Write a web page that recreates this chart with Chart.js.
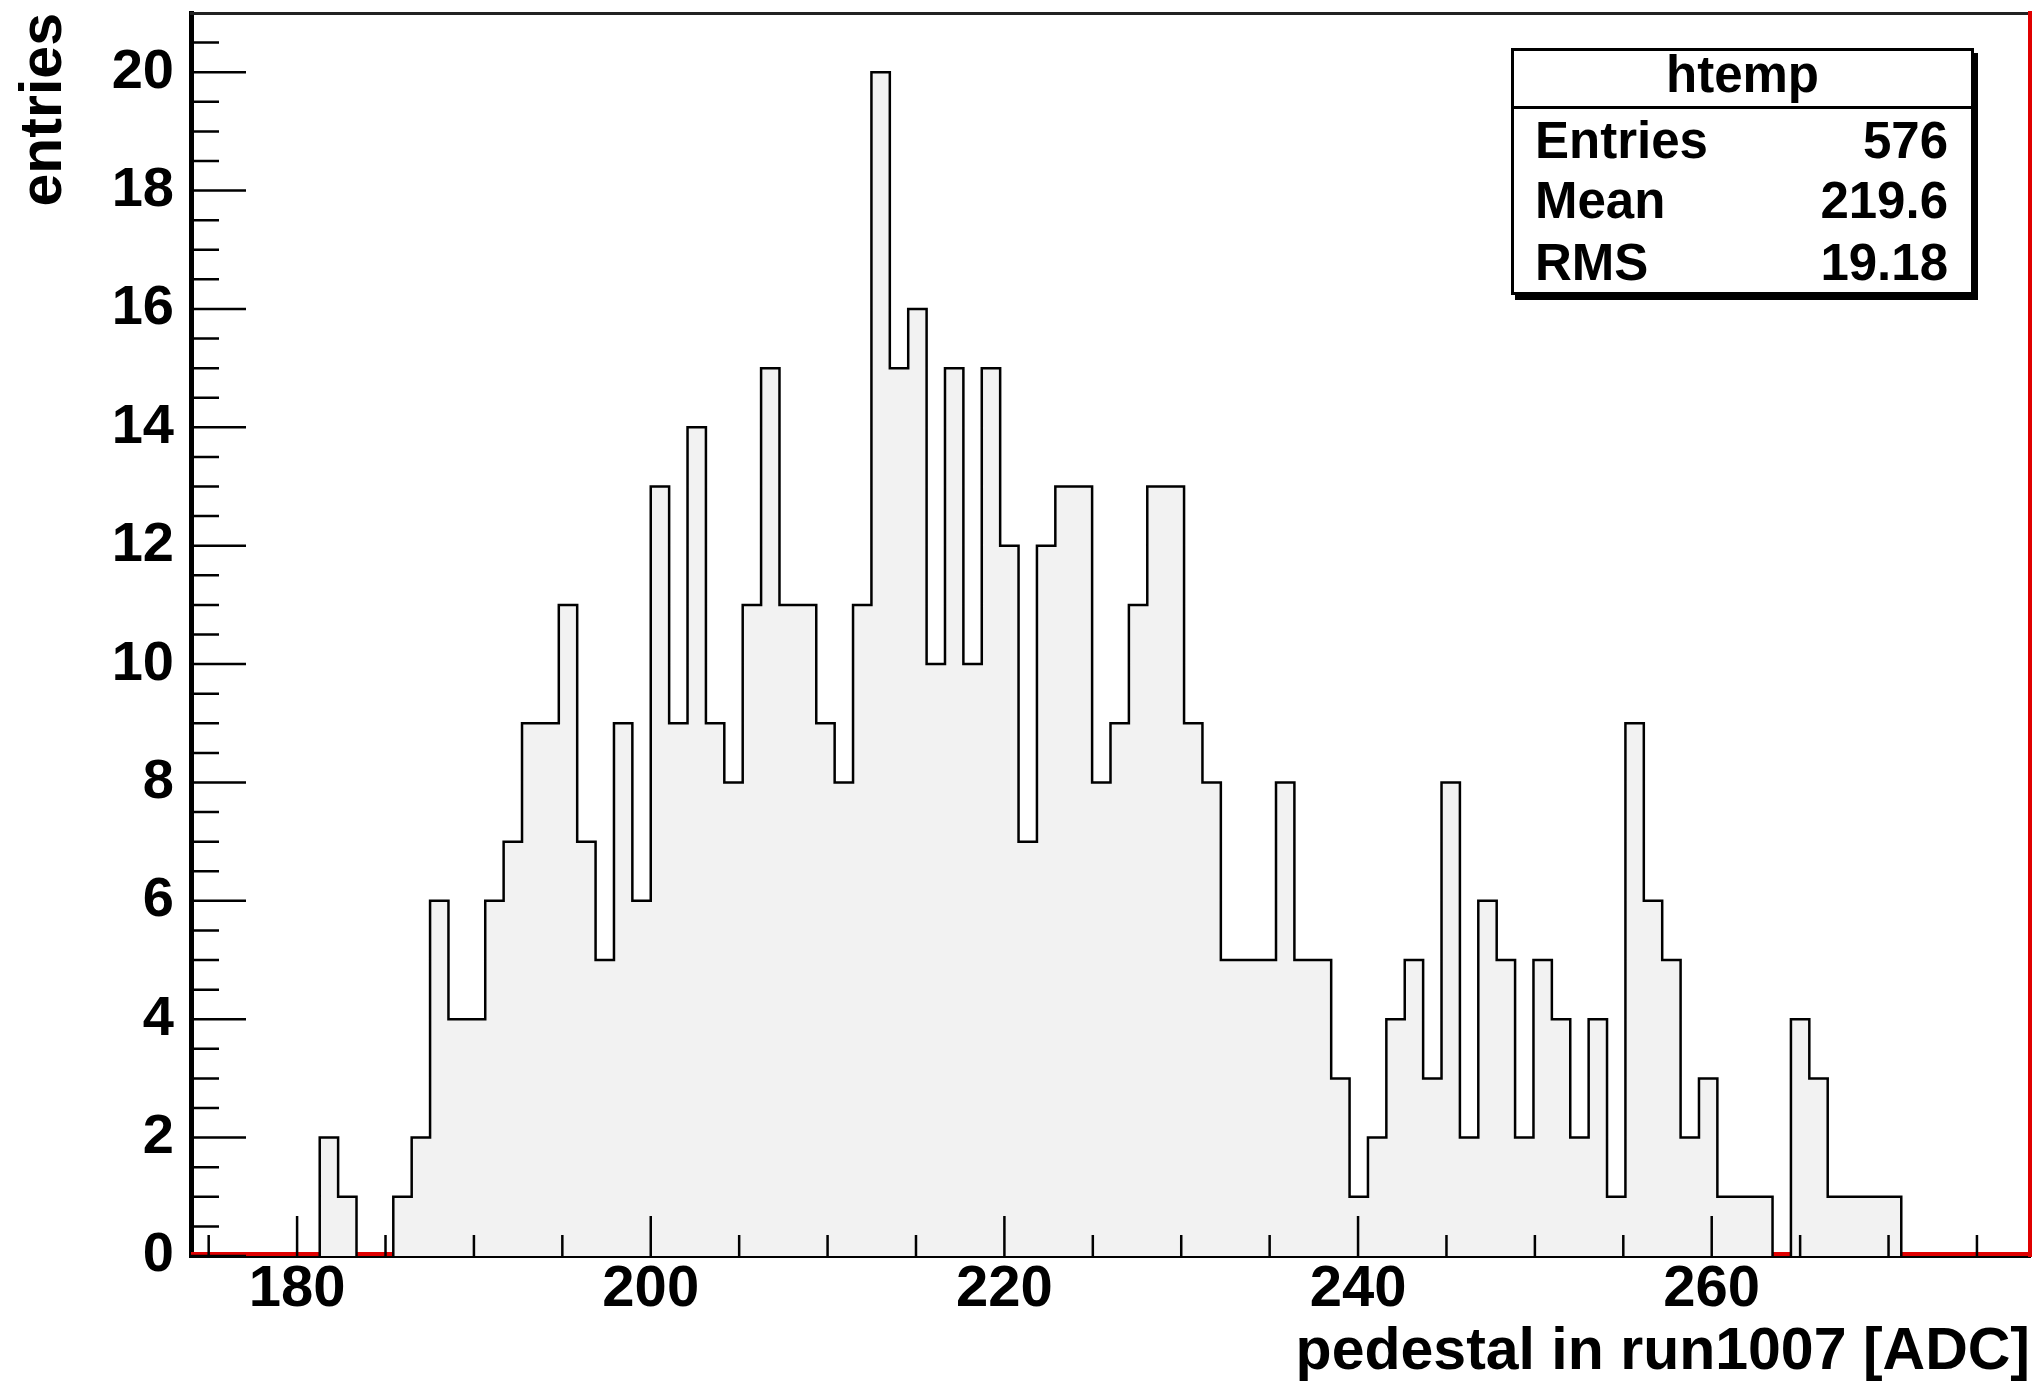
<!DOCTYPE html>
<html>
<head>
<meta charset="utf-8">
<script src="https://cdn.jsdelivr.net/npm/chart.js@4.4.1/dist/chart.umd.min.js"></script>
<style>
html,body{margin:0;padding:0;background:#fff;}
#wrap{position:relative;width:2037px;height:1386px;overflow:hidden;}
#c{position:absolute;left:0;top:0;}
.st{position:absolute;font-family:"Liberation Sans",Arial,Helvetica,sans-serif;font-weight:bold;font-size:51px;line-height:51px;color:#000;white-space:nowrap;}
#box{position:absolute;left:1511px;top:48px;width:463px;height:247px;border:3px solid #000;box-sizing:border-box;background:#fff;box-shadow:4px 5px 0 #000;}
#divider{position:absolute;left:1511px;top:106px;width:463px;height:3px;background:#000;}
</style>
</head>
<body>
<div id="wrap">
<canvas id="c" width="2037" height="1386"></canvas>
<div id="box"></div>
<div id="divider"></div>
<div class="st" id="sTitle" style="left:1511px;top:48.8px;width:463px;text-align:center;"></div>
<div class="st" id="n0" style="left:1535px;top:114.8px;"></div>
<div class="st" id="v0" style="left:1535px;top:114.8px;width:413px;text-align:right;"></div>
<div class="st" id="n1" style="left:1535px;top:174.8px;"></div>
<div class="st" id="v1" style="left:1535px;top:174.8px;width:413px;text-align:right;"></div>
<div class="st" id="n2" style="left:1535px;top:236.8px;"></div>
<div class="st" id="v2" style="left:1535px;top:236.8px;width:413px;text-align:right;"></div>
</div>
<script>
// ---- data ----
const binLow = 174;
const binWidth = 1.04;
const counts = [
  0, 0, 0, 0, 0, 0, 0, 2, 1, 0,
  0, 1, 2, 6, 4, 4, 6, 7, 9, 9,
  11, 7, 5, 9, 6, 13, 9, 14, 9, 8,
  11, 15, 11, 11, 9, 8, 11, 20, 15, 16,
  10, 15, 10, 15, 12, 7, 12, 13, 13, 8,
  9, 11, 13, 13, 9, 8, 5, 5, 5, 8,
  5, 5, 3, 1, 2, 4, 5, 3, 8, 2,
  6, 5, 2, 5, 4, 2, 4, 1, 9, 6,
  5, 2, 3, 1, 1, 1, 0, 4, 3, 1,
  1, 1, 1, 0, 0, 0, 0, 0, 0, 0
];
const xTitle = "pedestal in run1007 [ADC]";
const yTitle = "entries";
const statTitle = "htemp";
const statNames = ["Entries", "Mean", "RMS"];
const statValues = ["576", "219.6", "19.18"];

// ---- stats box text ----
document.getElementById('sTitle').textContent = statTitle;
for (let i = 0; i < statNames.length; i++) {
  document.getElementById('n' + i).textContent = statNames[i];
  document.getElementById('v' + i).textContent = statValues[i];
}

// ---- build histogram outline points from bins ----
const nBins = counts.length;
const xMax = binLow + nBins * binWidth;
const histPoints = [];
for (let i = 0; i < nBins; i++) {
  const x0 = binLow + i * binWidth;
  const x1 = binLow + (i + 1) * binWidth;
  histPoints.push({x: x0, y: counts[i]});
  histPoints.push({x: x1, y: counts[i]});
}

const FONT = "'Liberation Sans', Arial, Helvetica, sans-serif";

const innerTicks = {
  id: 'innerTicks',
  afterDatasetsDraw(chart) {
    const ctx = chart.ctx;
    const xs = chart.scales.x, ys = chart.scales.y;
    const area = chart.chartArea;
    ctx.save();
    ctx.strokeStyle = '#000';
    ctx.lineWidth = 2.5;
    ctx.beginPath();
    for (let v = 175; v < xs.max; v += 5) {
      const px = xs.getPixelForValue(v);
      const len = (v % 20 === 0) ? 40 : 21;
      ctx.moveTo(px, area.bottom);
      ctx.lineTo(px, area.bottom - len);
    }
    for (let v = 0; v < ys.max; v += 0.5) {
      const py = ys.getPixelForValue(v);
      const len = (v % 2 === 0) ? 55 : 28;
      ctx.moveTo(area.left, py);
      ctx.lineTo(area.left + len, py);
    }
    ctx.stroke();
    ctx.restore();
  }
};

function noPad(s) {
  s.paddingTop = 0; s.paddingBottom = 0; s.paddingLeft = 0; s.paddingRight = 0;
}

new Chart(document.getElementById('c'), {
  type: 'line',
  data: {
    datasets: [
      {
        label: 'htemp',
        data: histPoints,
        order: 1,
        borderColor: '#000',
        borderWidth: 2.5,
        backgroundColor: '#f2f2f2',
        fill: 'origin',
        pointRadius: 0,
        tension: 0,
        borderJoinStyle: 'miter',
        segment: {
          borderColor: c => (c.p0.parsed.y === 0 && c.p1.parsed.y === 0) ? 'rgba(0,0,0,0)' : '#000'
        }
      },
      {
        label: 'base',
        data: [{x: binLow, y: 0}, {x: xMax, y: 0}],
        order: 2,
        borderColor: '#e00000',
        borderWidth: 8,
        pointRadius: 0,
        fill: false,
        clip: 0
      }
    ]
  },
  options: {
    responsive: false,
    animation: false,
    devicePixelRatio: 1,
    layout: {padding: {left: 0, right: 7, top: 13, bottom: 0}},
    plugins: {legend: {display: false}, tooltip: {enabled: false}},
    scales: {
      x: {
        type: 'linear',
        position: 'bottom',
        min: binLow,
        max: xMax,
        z: 1,
        grid: {display: false, drawTicks: false},
        border: {display: true, color: '#000', width: 4},
        ticks: {
          stepSize: 20,
          includeBounds: false,
          autoSkip: false,
          maxRotation: 0,
          padding: 5,
          color: '#000',
          font: {family: FONT, weight: 'bold', size: 58, lineHeight: 1}
        },
        title: {
          display: true,
          text: xTitle,
          align: 'end',
          color: '#000',
          padding: {top: 0, bottom: 4},
          font: {family: FONT, weight: 'bold', size: 59, lineHeight: 1}
        },
        afterFit: s => { s.height = 130; noPad(s); }
      },
      y: {
        type: 'linear',
        position: 'left',
        min: 0,
        max: 21,
        z: 1,
        grid: {display: false, drawTicks: false},
        border: {display: true, color: '#000', width: 5},
        ticks: {
          stepSize: 2,
          includeBounds: false,
          autoSkip: false,
          padding: 17,
          color: '#000',
          font: {family: FONT, weight: 'bold', size: 56, lineHeight: 1}
        },
        title: {
          display: true,
          text: yTitle,
          align: 'end',
          color: '#000',
          padding: {top: 15.5, bottom: 0},
          font: {family: FONT, weight: 'bold', size: 59, lineHeight: 1}
        },
        afterFit: s => { s.width = 191; noPad(s); }
      },
      x2: {
        type: 'linear',
        position: 'top',
        min: binLow,
        max: xMax,
        z: 1,
        grid: {display: false, drawTicks: false},
        border: {display: true, color: '#222', width: 3},
        ticks: {display: false},
        afterFit: s => { s.height = 0; noPad(s); }
      },
      y2: {
        type: 'linear',
        position: 'right',
        min: 0,
        max: 21,
        z: 1,
        grid: {display: false, drawTicks: false},
        border: {display: true, color: '#e00000', width: 4},
        ticks: {display: false},
        afterFit: s => { s.width = 0; noPad(s); }
      }
    }
  },
  plugins: [innerTicks]
});
</script>
</body>
</html>
